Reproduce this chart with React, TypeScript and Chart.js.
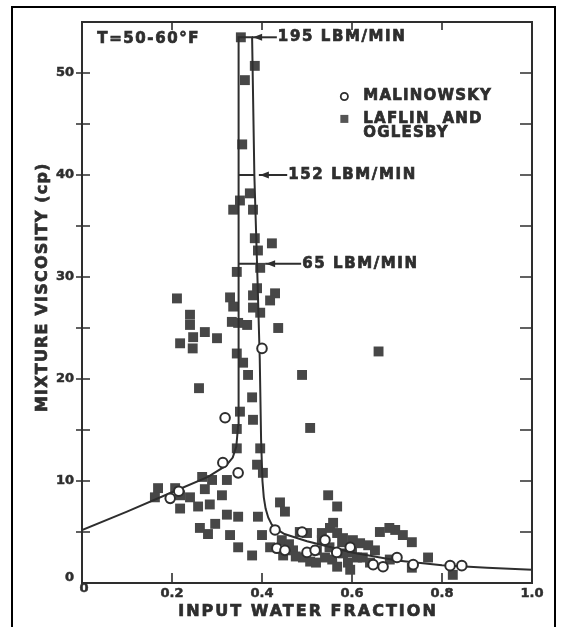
import { useEffect, useRef } from "react";
import { Chart, registerables } from "chart.js";

Chart.register(...registerables);

// Axis ticks
const xMajorTicks = [0.2, 0.4, 0.6, 0.8];
const xTickValues = [0, 0.2, 0.4, 0.6, 0.8, 1.0];
const xTickLabels = ["0", "0.2", "0.4", "0.6", "0.8", "1.0"];
const yTickValues = [0, 10, 20, 30, 40, 50];
const yTickLabels = ["0", "10", "20", "30", "40", "50"];
const yAllTicks = [5, 10, 15, 20, 25, 30, 35, 40, 45, 50];

// Malinowsky data (open circles)
const malinowskyX = [0.196, 0.215, 0.318, 0.313, 0.347, 0.4, 0.429, 0.433, 0.451, 0.489, 0.5, 0.518, 0.54, 0.566, 0.596, 0.647, 0.669, 0.7, 0.736, 0.818, 0.844];
const malinowskyY = [8.3, 9.0, 16.2, 11.8, 10.8, 23.0, 5.2, 3.4, 3.2, 5.0, 3.0, 3.2, 4.2, 3.0, 3.5, 1.8, 1.6, 2.5, 1.8, 1.7, 1.7];

// Laflin and Oglesby data (filled squares)
const laflinX = [
  0.353, 0.384, 0.362, 0.356, 0.373, 0.351, 0.336, 0.38, 0.384, 0.391, 0.422, 0.344, 0.396, 0.329, 0.336,
  0.389, 0.38, 0.429, 0.418, 0.38, 0.396, 0.333, 0.347, 0.367, 0.436, 0.344, 0.358, 0.369, 0.489, 0.378,
  0.38, 0.351, 0.344, 0.344, 0.396, 0.389, 0.402, 0.507, 0.659,
  0.211, 0.24, 0.24, 0.247, 0.273, 0.3, 0.218, 0.246, 0.26,
  0.169, 0.162, 0.207, 0.218, 0.24, 0.267, 0.289, 0.273, 0.322, 0.218, 0.258, 0.284, 0.311, 0.322, 0.347,
  0.391, 0.262, 0.28, 0.296, 0.329, 0.347, 0.378, 0.4, 0.44, 0.451,
  0.547, 0.567, 0.444, 0.484, 0.5, 0.533, 0.551, 0.567, 0.58, 0.602, 0.618, 0.636, 0.651, 0.662, 0.696,
  0.713, 0.733, 0.447, 0.469, 0.491, 0.522, 0.54, 0.556, 0.58, 0.591, 0.611, 0.624, 0.64, 0.684, 0.733,
  0.769, 0.824, 0.418, 0.507, 0.567, 0.578, 0.596, 0.533, 0.558, 0.683, 0.46, 0.475, 0.52, 0.55, 0.6,
];
const laflinY = [
  53.5, 50.7, 49.3, 43.0, 38.2, 37.5, 36.6, 36.6, 33.8, 32.6, 33.3, 30.5, 30.9, 28.0, 27.1,
  28.9, 28.2, 28.4, 27.7, 27.0, 26.5, 25.6, 25.5, 25.3, 25.0, 22.5, 21.6, 20.4, 20.4, 18.2,
  16.0, 16.8, 15.1, 13.2, 13.2, 11.6, 10.8, 15.2, 22.7,
  27.9, 26.3, 25.3, 24.1, 24.6, 24.0, 23.5, 23.0, 19.1,
  9.3, 8.4, 9.3, 8.6, 8.4, 10.4, 10.1, 9.2, 10.1, 7.3, 7.5, 7.7, 8.6, 6.7, 6.5,
  6.5, 5.4, 4.8, 5.8, 4.7, 3.5, 2.7, 4.7, 7.9, 7.0,
  8.6, 7.5, 4.2, 5.0, 4.9, 4.9, 5.4, 4.9, 4.4, 4.2, 3.9, 3.7, 3.2, 5.0, 5.2,
  4.7, 4.0, 2.7, 3.2, 2.5, 3.2, 2.5, 2.3, 2.9, 2.0, 2.5, 2.5, 2.0, 2.3, 1.5,
  2.5, 0.8, 3.5, 2.1, 1.6, 4.0, 1.3, 4.2, 5.9, 5.4, 3.8, 2.6, 2.0, 3.5, 3.0,
];

// Correlation curve (195 LBM/MIN envelope)
const curveX = [0, 0.1, 0.2, 0.28, 0.32, 0.335, 0.343, 0.347, 0.348, 0.348, 0.378, 0.383, 0.389, 0.395, 0.398, 0.401, 0.404, 0.408, 0.414, 0.422, 0.435, 0.45, 0.5, 0.6, 0.7, 0.8, 0.9, 1.0];
const curveY = [5.2, 7.0, 8.9, 10.4, 11.5, 12.3, 13.4, 15.5, 20, 53.5, 53.5, 40, 31.3, 22, 14, 10, 8.4, 7.3, 6.4, 5.7, 5.2, 4.8, 4.1, 3.0, 2.2, 1.75, 1.5, 1.3];

// Flow-rate levels; the lower two are drawn as caps across the peak
const flowLabels = ["195 LBM/MIN", "152 LBM/MIN", "65 LBM/MIN"];
const flowLevels = [53.5, 40, 31.3];
const capLeftX = [0.348, 0.348];
const capRightX = [0.383, 0.389];
const arrowFromX = [0.378, 0.393, 0.407];
const arrowToX = [0.433, 0.456, 0.487];

const tempLabel = "T=50-60°F";
const legendLabels = ["MALINOWSKY", "LAFLIN  AND", "OGLESBY"];
const xTitle = "INPUT WATER FRACTION";
const yTitle = "MIXTURE VISCOSITY (cp)";

const INK = "#2e2e2e";
const FONT = "'DejaVu Sans', 'Liberation Sans', sans-serif";

const pairs = (xs: number[], ys: number[]) => xs.map((x, i) => ({ x, y: ys[i] }));

// heavy, slightly smeared lettering
function heavyText(ctx: CanvasRenderingContext2D, text: string, x: number, y: number, weight = 0.7) {
  ctx.lineWidth = weight;
  ctx.strokeText(text, x, y);
  ctx.fillText(text, x, y);
}

const framePlugin = {
  id: "framePlugin",
  beforeDatasetsDraw(chart: any) {
    const { ctx, chartArea: a } = chart;
    const xs = chart.scales.x;
    const ys = chart.scales.y;
    ctx.save();
    ctx.strokeStyle = INK;
    ctx.lineWidth = 2;
    ctx.strokeRect(a.left, a.top, a.right - a.left, a.bottom - a.top);
    ctx.lineWidth = 1.6;
    ctx.beginPath();
    for (const v of xMajorTicks) {
      const px = xs.getPixelForValue(v);
      ctx.moveTo(px, a.bottom);
      ctx.lineTo(px, a.bottom - 10);
      ctx.moveTo(px, a.top);
      ctx.lineTo(px, a.top + 8);
    }
    for (const v of yAllTicks) {
      const py = ys.getPixelForValue(v);
      ctx.moveTo(a.left - 6, py);
      ctx.lineTo(a.left + 8, py);
      ctx.moveTo(a.right, py);
      ctx.lineTo(a.right - 12, py);
    }
    ctx.stroke();
    ctx.lineWidth = 2;
    ctx.beginPath();
    for (let i = 0; i < capLeftX.length; i++) {
      const py = ys.getPixelForValue(flowLevels[i + 1]);
      ctx.moveTo(xs.getPixelForValue(capLeftX[i]), py);
      ctx.lineTo(xs.getPixelForValue(capRightX[i]), py);
    }
    ctx.stroke();
    ctx.restore();
  },
  afterDatasetsDraw(chart: any) {
    const { ctx, chartArea: a } = chart;
    const xs = chart.scales.x;
    const ys = chart.scales.y;
    ctx.save();
    ctx.fillStyle = INK;
    ctx.strokeStyle = INK;

    // tick labels
    ctx.font = `bold 13px ${FONT}`;
    ctx.textBaseline = "middle";
    ctx.textAlign = "right";
    yTickValues.forEach((v, i) => {
      const py = ys.getPixelForValue(v) - (v === 0 ? 5 : 0);
      heavyText(ctx, yTickLabels[i], a.left - 8, py, 0.5);
    });
    ctx.textAlign = "center";
    xTickValues.forEach((v, i) => {
      const px = xs.getPixelForValue(v) + (v === 0 ? 2 : 0);
      heavyText(ctx, xTickLabels[i], px, a.bottom + (v === 0 ? 6 : 11), 0.5);
    });

    // axis titles
    ctx.font = `bold 16px ${FONT}`;
    (ctx as any).letterSpacing = "2px";
    heavyText(ctx, xTitle, (a.left + a.right) / 2 + 1, a.bottom + 29);
    (ctx as any).letterSpacing = "1.2px";
    ctx.save();
    ctx.translate(a.left - 39, ys.getPixelForValue(29));
    ctx.rotate(-Math.PI / 2);
    heavyText(ctx, yTitle, 0, 0);
    ctx.restore();

    // annotations
    ctx.font = `bold 15px ${FONT}`;
    (ctx as any).letterSpacing = "1.6px";
    ctx.textAlign = "left";
    heavyText(ctx, tempLabel, xs.getPixelForValue(0.034), ys.getPixelForValue(53.3));
    flowLabels.forEach((t, i) => {
      const py = ys.getPixelForValue(flowLevels[i]);
      const x0 = xs.getPixelForValue(arrowFromX[i]);
      const x1 = xs.getPixelForValue(arrowToX[i]);
      ctx.lineWidth = 2;
      ctx.beginPath();
      ctx.moveTo(x0, py);
      ctx.lineTo(x1, py);
      ctx.stroke();
      ctx.beginPath();
      ctx.moveTo(x0 + 1, py);
      ctx.lineTo(x0 + 10, py - 3.5);
      ctx.lineTo(x0 + 10, py + 3.5);
      ctx.closePath();
      ctx.fill();
      heavyText(ctx, t, x1 + 1, py);
    });

    // legend
    const lx = xs.getPixelForValue(0.583);
    const ly0 = ys.getPixelForValue(47.7);
    const ly1 = ys.getPixelForValue(45.5);
    const ly2 = ys.getPixelForValue(44.2);
    ctx.lineWidth = 1.8;
    ctx.beginPath();
    ctx.arc(lx, ly0, 3.6, 0, Math.PI * 2);
    ctx.stroke();
    ctx.fillStyle = "#555";
    ctx.fillRect(lx - 4, ly1 - 4, 8, 8);
    ctx.fillStyle = INK;
    (ctx as any).letterSpacing = "1.2px";
    heavyText(ctx, legendLabels[0], lx + 19, ly0);
    heavyText(ctx, legendLabels[1], lx + 19, ly1);
    heavyText(ctx, legendLabels[2], lx + 19, ly2 + 1);
    ctx.restore();
  },
};

export default function App() {
  const canvasRef = useRef<HTMLCanvasElement | null>(null);

  useEffect(() => {
    const canvas = canvasRef.current;
    if (!canvas) return;
    const chart = new Chart(canvas, {
      type: "scatter",
      data: {
        datasets: [
          {
            label: "Malinowsky",
            data: pairs(malinowskyX, malinowskyY),
            pointStyle: "circle",
            pointRadius: 4.8,
            pointBackgroundColor: "#ffffff",
            pointBorderColor: INK,
            pointBorderWidth: 2,
          },
          {
            label: "Curve",
            data: pairs(curveX, curveY),
            showLine: true,
            borderColor: INK,
            borderWidth: 2,
            pointRadius: 0,
            tension: 0,
            fill: false,
          },
          {
            label: "Laflin and Oglesby",
            data: pairs(laflinX, laflinY),
            pointStyle: "rect",
            pointRadius: 7,
            pointBackgroundColor: "#474747",
            pointBorderColor: "#474747",
            pointBorderWidth: 0,
          },
        ],
      },
      options: {
        animation: false,
        responsive: false,
        devicePixelRatio: 1,
        layout: { padding: { left: 82, top: 22, right: 33, bottom: 44 } },
        plugins: { legend: { display: false }, tooltip: { enabled: false } },
        scales: {
          x: { type: "linear", min: 0, max: 1, display: false },
          y: { type: "linear", min: 0, max: 55, display: false },
        },
      },
      plugins: [framePlugin],
    });
    return () => chart.destroy();
  }, []);

  return (
    <div
      style={{
        position: "fixed",
        left: 0,
        top: 0,
        width: 565,
        height: 627,
        background: "#ffffff",
        overflow: "hidden",
      }}
    >
      <div
        style={{
          position: "absolute",
          left: 11,
          top: 6,
          width: 545,
          height: 640,
          border: "2px solid #000",
          boxSizing: "border-box",
        }}
      />
      <canvas ref={canvasRef} width={565} height={627} style={{ position: "absolute", left: 0, top: 0 }} />
    </div>
  );
}
